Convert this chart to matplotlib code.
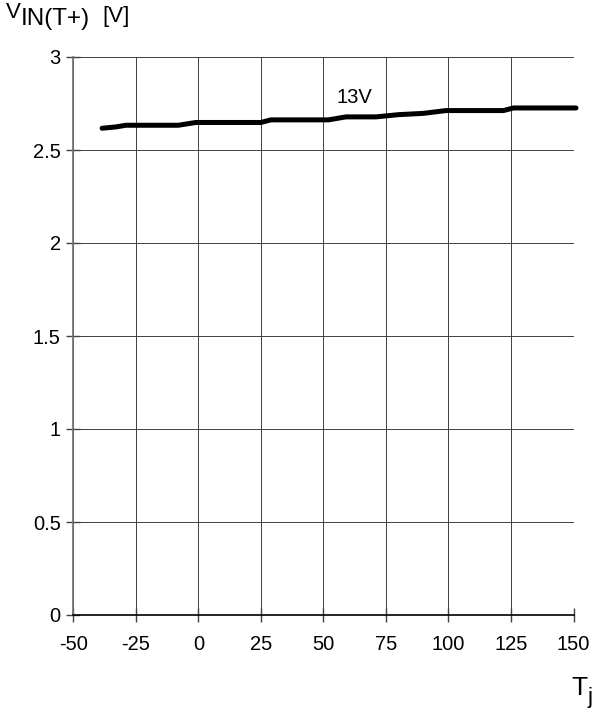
import matplotlib
matplotlib.use("Agg")
import matplotlib.pyplot as plt

plt.rcParams['font.family'] = ['Liberation Sans', 'DejaVu Sans']
plt.rcParams['axes.unicode_minus'] = False

# Data
temp = [-38.5, -33, -29, -8, -1, 25, 29, 52, 59, 71, 80, 90, 99, 122, 126, 151]
vin = [2.617, 2.624, 2.633, 2.633, 2.648, 2.648, 2.662, 2.662, 2.678, 2.678,
       2.690, 2.697, 2.712, 2.712, 2.726, 2.726]
x_ticks = [-50, -25, 0, 25, 50, 75, 100, 125, 150]
y_ticks = [0, 0.5, 1, 1.5, 2, 2.5, 3]
y_tick_labels = ["0", "0.5", "1", "1.5", "2", "2.5", "3"]
series_label = "13V"

W, H = 592, 710
fig = plt.figure(figsize=(W / 100, H / 100), dpi=100)
ax = fig.add_axes([73.3 / W, 1 - 615 / H, (573.5 - 73.3) / W, (615 - 57) / H])

ax.set_xlim(-50, 150)
ax.set_ylim(0, 3)
ax.set_xticks(x_ticks)
ax.set_yticks(y_ticks)
ax.set_yticklabels(y_tick_labels)
ax.grid(True, color='#404040', linewidth=0.7)
ax.set_axisbelow(True)

for s in ['top', 'right']:
    ax.spines[s].set_visible(False)
ax.spines['left'].set_color('#707070')
ax.spines['left'].set_linewidth(1.2)
ax.spines['bottom'].set_color('black')
ax.spines['bottom'].set_linewidth(1.2)

ax.tick_params(axis='both', direction='inout', length=10, width=1.0,
               color='#404040', labelsize=14.5, pad=4)
ax.tick_params(axis='x', pad=9.5)

ax.plot(temp, vin, color='black', linewidth=3.6, solid_capstyle='round',
        clip_on=False, zorder=3)
ax.text(62.3, 2.752, series_label, ha='center', va='baseline', fontsize=14.5)

# Axis labels
def ftext(x, y, s, **kw):
    fig.text(x / W, 1 - y / H, s, va='baseline', **kw)

ftext(6, 17.5, "V", fontsize=16)
ftext(21, 25, "IN(T+)", fontsize=17.5)
ftext(102, 22, "[V]", fontsize=16)
ftext(571, 695, "T", fontsize=19)
ftext(587.5, 703, "j", fontsize=16)

fig.savefig("out.png", dpi=100)
